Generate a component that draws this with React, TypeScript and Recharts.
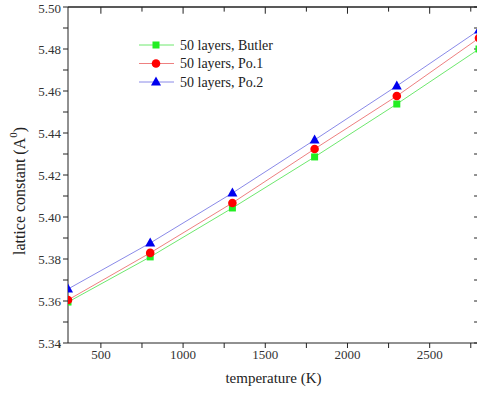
import type { ReactElement } from "react";
import {
  Label,
  Line,
  LineChart,
  ReferenceLine,
  XAxis,
  YAxis,
} from "recharts";

const temperatures = [300, 800, 1300, 1800, 2300, 2800];
const butler = [5.3595, 5.381, 5.4043, 5.4286, 5.4538, 5.48];
const po1 = [5.3605, 5.3829, 5.4067, 5.4324, 5.4576, 5.4852];
const po2 = [5.3657, 5.3876, 5.4114, 5.4367, 5.4624, 5.489];

const xTicks = [250, 500, 750, 1000, 1250, 1500, 1750, 2000, 2250, 2500, 2750];
const yTicks = [5.34, 5.35, 5.36, 5.37, 5.38, 5.39, 5.4, 5.41, 5.42, 5.43, 5.44, 5.45, 5.46, 5.47, 5.48, 5.49, 5.5];

const FONT = "'Liberation Serif', 'Times New Roman', serif";

type Row = { t: number; butler: number; po1: number; po2: number };

const data: Row[] = temperatures.map((t, i) => ({
  t,
  butler: butler[i],
  po1: po1[i],
  po2: po2[i],
}));

type Shape = "square" | "circle" | "triangle";

function Marker({ cx, cy, shape, fill }: { cx: number; cy: number; shape: Shape; fill: string }): ReactElement {
  if (shape === "square") {
    return <rect x={cx - 3.5} y={cy - 3.5} width={7} height={7} fill={fill} />;
  }
  if (shape === "circle") {
    return <circle cx={cx} cy={cy} r={4.3} fill={fill} />;
  }
  return <polygon points={`${cx},${cy - 5.5} ${cx - 5},${cy + 3.5} ${cx + 5},${cy + 3.5}`} fill={fill} />;
}

const series = [
  { key: "butler", name: "50 layers, Butler", line: "#6ee86e", fill: "#22ee22", shape: "square" as Shape },
  { key: "po1", name: "50 layers, Po.1", line: "#ee8080", fill: "#ff0000", shape: "circle" as Shape },
  { key: "po2", name: "50 layers, Po.2", line: "#8a8ae8", fill: "#0000ee", shape: "triangle" as Shape },
];

function LegendBox(): ReactElement {
  return (
    <svg width={200} height={60}>
      {series.map((s, i) => {
        const y = 9 + i * 18.5;
        return (
          <g key={s.key}>
            <line x1={3} x2={38} y1={y} y2={y} stroke={s.line} strokeWidth={1} />
            <Marker cx={20} cy={y} shape={s.shape} fill={s.fill} />
            <text x={44} y={y + 4.5} fontFamily={FONT} fontSize={14} fill="#222">
              {s.name}
            </text>
          </g>
        );
      })}
    </svg>
  );
}

// rotated y-axis title with a superscript 0 on the A
function YTitle({ viewBox }: { viewBox?: { x: number; y: number; width: number; height: number } }): ReactElement {
  const cy = (viewBox?.y ?? 0) + (viewBox?.height ?? 0) / 2 + 16;
  const cx = 19;
  return (
    <text
      x={cx}
      y={cy}
      transform={`rotate(-90 ${cx} ${cy})`}
      textAnchor="middle"
      dominantBaseline="central"
      fontFamily={FONT}
      fontSize={16}
      fill="#222"
    >
      lattice constant (A
      <tspan dy={-6} fontSize={11}>0</tspan>
      <tspan dy={6}>)</tspan>
    </text>
  );
}

const axisTick = { fontFamily: FONT, fontSize: 13, fill: "#333" };

export default function App(): ReactElement {
  return (
    <div style={{ position: "absolute", left: 0, top: 0, width: 477, height: 396, overflow: "hidden", background: "#fff" }}>
      <LineChart width={482} height={396} data={data} margin={{ top: 7, right: 3, bottom: 13, left: 0 }}>
        <XAxis
          xAxisId="bottom"
          dataKey="t"
          type="number"
          domain={[300, 2800]}
          allowDataOverflow
          ticks={xTicks}
          tickFormatter={(v: number) => (v % 500 === 0 ? String(v) : "")}
          tick={axisTick}
          tickSize={5}
          stroke="#222"
          height={40}
        >
          <Label value="temperature (K)" position="insideBottom" offset={0} style={{ fontFamily: FONT, fontSize: 15, fill: "#222" }} />
        </XAxis>
        <YAxis
          yAxisId="left"
          type="number"
          domain={[5.34, 5.5]}
          ticks={yTicks}
          tickFormatter={(v: number) => (Math.round(v * 100) % 2 === 0 ? v.toFixed(2) : "")}
          tick={axisTick}
          tickSize={5}
          stroke="#222"
          width={68}
        >
          <Label content={(props) => <YTitle viewBox={props.viewBox as { x: number; y: number; width: number; height: number }} />} />
        </YAxis>
        <ReferenceLine xAxisId="bottom" yAxisId="left" y={5.5} stroke="#222" strokeWidth={1.5} />
        <ReferenceLine xAxisId="bottom" yAxisId="left" x={2800} stroke="#222" strokeWidth={1.5} />
        {/* inward ticks on the top frame line */}
        {xTicks.filter((t) => t > 300).map((t) => (
          <ReferenceLine
            key={`tx-${t}`}
            xAxisId="bottom"
            yAxisId="left"
            segment={[{ x: t, y: 5.5 }, { x: t, y: t % 500 === 0 ? 5.4968 : 5.4978 }]}
            stroke="#222"
          />
        ))}
        {/* inward ticks on the right frame line */}
        {yTicks.map((v) => (
          <ReferenceLine
            key={`ty-${v}`}
            xAxisId="bottom"
            yAxisId="left"
            segment={[{ x: 2800, y: v }, { x: 2770, y: v }]}
            stroke="#222"
          />
        ))}
        {series.map((s) => (
          <Line
            key={s.key}
            xAxisId="bottom"
            yAxisId="left"
            dataKey={s.key}
            name={s.name}
            type="linear"
            stroke={s.line}
            strokeWidth={1}
            isAnimationActive={false}
            dot={(p: { cx?: number; cy?: number; index?: number }) => (
              <Marker key={`${s.key}-${p.index}`} cx={p.cx ?? 0} cy={p.cy ?? 0} shape={s.shape} fill={s.fill} />
            )}
            activeDot={false}
          />
        ))}
      </LineChart>
      <div style={{ position: "absolute", left: 136, top: 36 }}>
        <LegendBox />
      </div>
    </div>
  );
}
